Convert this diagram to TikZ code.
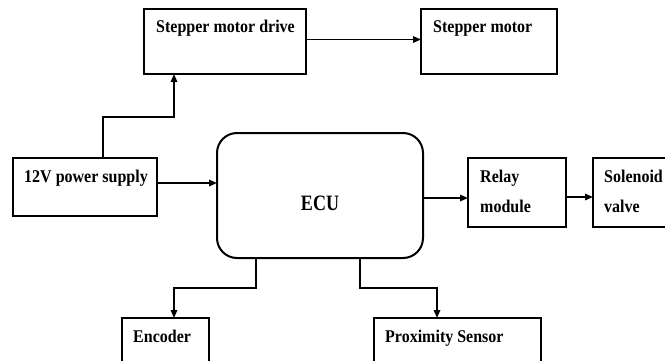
\documentclass[tikz,border=0pt]{standalone}
\usepackage{fontspec}
\usepackage{graphicx}
\setmainfont{Liberation Serif}
\usetikzlibrary{arrows.meta}
\newcommand\talltxt[1]{\scalebox{1}[1.12]{#1}}
\begin{document}
\begin{tikzpicture}[x=1pt,y=1pt,
  blk/.style={draw, line width=2pt, anchor=north west, inner sep=0pt, outer sep=0pt},
  ecubox/.style={blk, rounded corners=20pt},
  lbl/.style={anchor=base west, inner sep=0pt, font=\bfseries\fontsize{16}{18}\selectfont},
  arr/.style={line width=1.5pt, -{Triangle[length=8pt,width=6.5pt]}}]
\useasboundingbox (0,0) rectangle (665,-360);
\clip (0,0) rectangle (665,-360);
% boxes
\node[blk, minimum width=162pt, minimum height=65pt] (drive) at (144,-9) {};
\node[blk, minimum width=136pt, minimum height=65pt] (motor) at (421,-9) {};
\node[blk, minimum width=144pt, minimum height=58pt] (psu) at (13,-158) {};
\node[ecubox, minimum width=206pt, minimum height=125pt] (ecu) at (217,-133) {};
\node[blk, minimum width=98pt, minimum height=69pt] (relay) at (468,-158) {};
\node[blk, minimum width=95pt, minimum height=69pt] (sol) at (593,-158) {};
\node[blk, minimum width=87pt, minimum height=60pt] (enc) at (122,-318) {};
\node[blk, minimum width=167pt, minimum height=60pt] (prox) at (374,-318) {};
% texts
\node[lbl] (tdrive) at ([xshift=12pt,yshift=-23pt]drive.north west) {\talltxt{Stepper motor drive}};
\node[lbl] (tmotor) at ([xshift=12pt,yshift=-23pt]motor.north west) {\talltxt{Stepper motor}};
\node[lbl] (tpsu) at ([xshift=11pt,yshift=-24pt]psu.north west) {\talltxt{12V power supply}};
\node[lbl, anchor=base, font=\bfseries\fontsize{18}{20}\selectfont] (tecu) at ([yshift=-14.5pt]ecu.center) {\scalebox{1}[1.22]{ECU}};
\node[lbl] (trelay1) at ([xshift=12pt,yshift=-24pt]relay.north west) {\talltxt{Relay}};
\node[lbl] (trelay2) at ([xshift=12pt,yshift=-54pt]relay.north west) {\talltxt{module}};
\node[lbl] (tsol1) at ([xshift=11pt,yshift=-24pt]sol.north west) {\talltxt{Solenoid}};
\node[lbl] (tsol2) at ([xshift=11pt,yshift=-54pt]sol.north west) {\talltxt{valve}};
\node[lbl] (tenc) at ([xshift=11pt,yshift=-24pt]enc.north west) {\talltxt{Encoder}};
\node[lbl] (tprox) at ([xshift=11pt,yshift=-24pt]prox.north west) {\talltxt{Proximity Sensor}};
% connectors
\draw[arr] ([yshift=2pt]drive.east) -- ([yshift=2pt]motor.west);
\draw[arr] ([xshift=18pt]psu.north) -- ++(0,41) -| ([xshift=-51pt]drive.south);
\draw[arr] ([yshift=4pt]psu.east) -- ([yshift=4pt]psu.east -| ecu.west);
\draw[arr] ([yshift=-2.5pt]ecu.east) -- ([yshift=-2.5pt]ecu.east -| relay.west);
\draw[arr] ([yshift=-4.5pt]relay.east) -- ([yshift=-4.5pt]relay.east -| sol.west);
\draw[arr] ([xshift=-64pt]ecu.south) -- ++(0,-30) -| ([xshift=8.5pt]enc.north);
\draw[arr] ([xshift=40pt]ecu.south) -- ++(0,-30) -| ([xshift=-20.5pt]prox.north);
\end{tikzpicture}
\end{document}
